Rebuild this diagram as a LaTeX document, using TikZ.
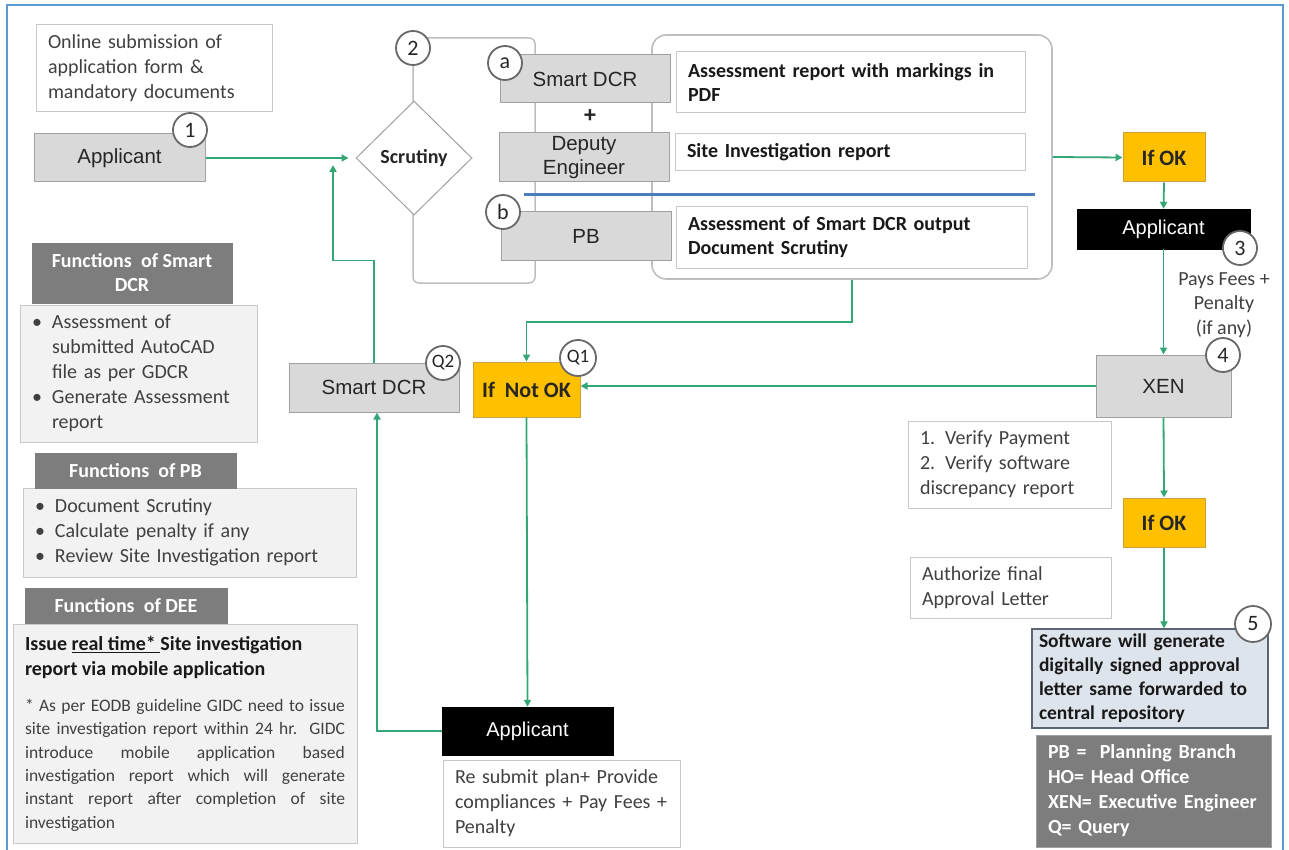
\documentclass[tikz,border=0pt]{standalone}
\usepackage{fontspec}
\setmainfont{Carlito}
\newfontfamily\arialf{Liberation Sans}
\usetikzlibrary{shapes.geometric,arrows.meta}
\definecolor{flowgreen}{RGB}{52,166,118}
\definecolor{graybox}{RGB}{217,217,217}
\definecolor{grayline}{RGB}{160,160,160}
\definecolor{lightline}{RGB}{200,200,200}
\definecolor{brackgray}{RGB}{190,190,190}
\definecolor{darkhdr}{RGB}{125,125,125}
\definecolor{lightbox}{RGB}{242,242,242}
\definecolor{goldc}{RGB}{255,192,0}
\definecolor{goldline}{RGB}{205,160,60}
\definecolor{bordblue}{RGB}{91,155,213}
\definecolor{sepblue}{RGB}{74,126,187}
\definecolor{boxfivefill}{RGB}{222,228,235}
\definecolor{boxfiveline}{RGB}{90,100,115}
\definecolor{txt}{RGB}{38,38,38}
\definecolor{txtgray}{RGB}{64,64,64}
\newcommand\fsz[2]{\fontsize{#1}{#2}\selectfont}
\tikzset{
  graynode/.style={draw=grayline, fill=graybox, line width=1pt, inner sep=0pt,
    font=\arialf\fsz{20.5}{24}, text=txt, align=center},
  blacknode/.style={fill=black, draw=black, inner sep=0pt, font=\arialf\fsz{20}{24}, text=white},
  goldnode/.style={fill=goldc, draw=goldline, line width=1pt, inner sep=0pt,
    font=\bfseries\fsz{22}{26}, text=black!85},
  txtbox/.style={draw=lightline, fill=white, line width=1pt, inner xsep=12pt, inner ysep=0pt,
    align=left, font=\fsz{20}{25}, text=txtgray},
  boldbox/.style={txtbox, font=\bfseries\fsz{20}{24}, text=black!90},
  hdr/.style={fill=darkhdr, draw=darkhdr, inner sep=0pt, font=\bfseries\fsz{20}{24},
    text=white, align=center},
  lbox/.style={draw=lightline, fill=lightbox, line width=1pt, inner xsep=12pt, inner ysep=0pt,
    align=left, font=\fsz{20}{25}, text=txtgray},
  num/.style={circle, draw=grayline!65!black, line width=1.8pt, fill=white, minimum size=34pt,
    inner sep=0pt, font=\fsz{22}{24}, text=txt},
  flow/.style={draw=flowgreen, line width=1.8pt, -{Triangle[length=7pt,width=7pt]}},
}
\begin{document}
\begin{tikzpicture}[x=1pt,y=-1pt]
\useasboundingbox (0,0) rectangle (1289,850);
\draw[bordblue, line width=2pt] (7,5) rectangle (1283,862);

% bracket and big rounded box
\draw[brackgray, line width=1.5pt, rounded corners=6pt] (413,38) rectangle (535,283);
\node[draw=brackgray, line width=1.6pt, rounded corners=14pt, minimum width=400pt,
  minimum height=244pt, inner sep=0pt] (bigbox) at (852,157) {};
\draw[sepblue, line width=3pt] (524,195) -- (1035,195);

% top-left
\node[txtbox, text width=212pt, minimum height=87pt] (online) at (154,68.5)
  {Online submission of\\application form \&\\mandatory documents};
\node[graynode, minimum width=171pt, minimum height=48pt] (app1) at (119.5,158) {Applicant};
\node[num] (c1) at (190,130) {1};

% scrutiny
\node[diamond, draw=grayline, fill=white, line width=1pt, minimum width=116pt,
  minimum height=114pt, inner sep=0pt, aspect=1.02, font=\bfseries\fsz{20}{24}, text=txt]
  (scr) at (414,158) {Scrutiny};
\node[num] (c2) at (413,48) {2};

% a / b boxes
\node[graynode, minimum width=170pt, minimum height=48pt] (sdcr) at (585,79) {Smart DCR};
\node[num] (ca) at (505,63) {a};
\node[font=\arialf\bfseries\fsz{22}{24}, text=txt, inner sep=0pt] (plus) at (590,116) {+};
\node[graynode, minimum width=170pt, minimum height=49pt] (dep) at (584,157.5) {Deputy\\Engineer};
\node[graynode, minimum width=170pt, minimum height=48pt] (pb) at (586,236) {PB};
\node[num] (cb) at (503,212) {b};

\node[boldbox, text width=325pt, minimum height=61pt] (r1) at (850.5,82.5)
  {Assessment report with markings in\\PDF};
\node[boldbox, text width=326pt, minimum height=37pt] (r2) at (850,152.5)
  {Site Investigation report};
\node[boldbox, text width=327pt, minimum height=61pt] (r3) at (851.5,237.5)
  {Assessment of Smart DCR output\\Document Scrutiny};

% right column
\node[goldnode, minimum width=82pt, minimum height=49pt] (ok1) at (1164,157.5) {If OK};
\node[blacknode, minimum width=173pt, minimum height=40pt] (appR) at (1163.5,229) {Applicant};
\node[num] (c3) at (1240,248) {3};
\node[font=\fsz{20}{24.5}, text=txtgray, align=center, inner sep=0pt] (pays) at (1224,305)
  {Pays Fees +\\Penalty\\(if any)};
\node[graynode, minimum width=135pt, minimum height=62pt] (xen) at (1163.5,386) {XEN};
\node[num] (c4) at (1223,355) {4};

\node[txtbox, text width=179pt, minimum height=87pt] (ver) at (1009.5,464.5)
  {1. Verify Payment\\2. Verify software\\discrepancy report};
\node[goldnode, minimum width=82pt, minimum height=49pt] (ok2) at (1164,522.5) {If OK};
\node[txtbox, text width=177pt, minimum height=61pt] (auth) at (1010.5,587.5)
  {Authorize final\\Approval Letter};
\node[draw=boxfiveline, fill=boxfivefill, line width=1.2pt, inner xsep=7pt, inner ysep=0pt,
  text width=222pt, minimum height=99pt, align=left, font=\bfseries\fsz{19.5}{24}, text=black!90]
  (b5) at (1150,678.5)
  {Software will generate\\digitally signed approval\\letter same forwarded to\\central repository};
\node[num, minimum size=36pt] (c5) at (1253,624) {5};
\node[fill=darkhdr, draw=grayline, line width=1pt, text width=211pt, inner xsep=12pt, inner ysep=0pt,
  minimum height=112pt, align=left, font=\bfseries\fsz{20}{25}, text=white] (leg) at (1153.5,791)
  {PB =\ \ Planning\ Branch\\HO= Head Office\\XEN= Executive Engineer\\Q= Query};

% middle
\node[goldnode, minimum width=107pt, minimum height=55pt] (notok) at (526.5,389.5) {If\ \ Not OK};
\node[num, minimum size=36pt, font=\fsz{19}{20}] (q1) at (578,358) {Q1};
\node[graynode, minimum width=170pt, minimum height=49pt] (q2dcr) at (374,387.5) {Smart DCR};
\node[num, font=\fsz{19}{20}] (q2) at (443,363) {Q2};

\node[blacknode, minimum width=171pt, minimum height=48pt] (appB) at (527.5,731) {Applicant};
\node[txtbox, text width=213pt, minimum height=87pt] (resub) at (561.5,803.5)
  {Re submit plan+ Provide\\compliances + Pay Fees +\\Penalty};

% left column
\node[lbox, text width=213pt, minimum height=137pt] (b1) at (138.5,373.5)
  {\makebox[20pt][l]{\textbullet}Assessment of\\
   \hspace*{20pt}submitted AutoCAD\\
   \hspace*{20pt}file as per GDCR\\
   \makebox[20pt][l]{\textbullet}Generate Assessment\\
   \hspace*{20pt}report};
\node[hdr, minimum width=200pt, minimum height=60pt] (h1) at (132,273) {Functions\ \ of Smart\\DCR};

\node[lbox, text width=309pt, minimum height=89pt] (b2) at (189.5,532.5)
  {\makebox[20pt][l]{\textbullet}Document Scrutiny\\
   \makebox[20pt][l]{\textbullet}Calculate penalty if any\\
   \makebox[20pt][l]{\textbullet}Review Site Investigation report};
\node[hdr, minimum width=201pt, minimum height=35pt] (h2) at (135.5,470.5) {Functions\ \ of PB};

\node[lbox, align=justify, text width=320pt, minimum height=219pt] (b3) at (185,733.5)
  {{\raggedright\bfseries\fsz{20}{25}\color{black!90}Issue \underline{real time*\ }Site investigation\\report via mobile application\par}
   \vspace{13pt}
   {\fsz{17.5}{23.3}* As per EODB guideline GIDC need to issue\linebreak
    site investigation report within 24 hr. GIDC\linebreak
    introduce mobile application based\linebreak
    investigation report which will generate\linebreak
    instant report after completion of site\linebreak
    investigation\par}};
\node[hdr, minimum width=202pt, minimum height=35pt] (h3) at (126,605.5) {Functions\ \ of DEE};

% connectors
\coordinate (j1) at (333,165);
\draw[flow, shorten >=7pt] (app1.east) -- (scr.west);
\draw[flow] (q2dcr.north) -- ++(0,-102) -| (j1);
\draw[flow] (bigbox.east) -- (ok1.west);
\draw[flow] (ok1.south) -- (appR.north);
\draw[flow] (appR.south) -- (xen.north);
\draw[flow] (xen.west) -- (notok.east |- xen.west);
\draw[flow] (bigbox.south) -- ++(0,42) -| (notok.north);
\draw[flow] (notok.south) -- (appB.north);
\draw[flow] (appB.west) -| ([xshift=3pt]q2dcr.south);
\draw[flow] (xen.south) -- (ok2.north);
\draw[flow] (ok2.south) -- (ok2.south |- b5.north);
\end{tikzpicture}
\end{document}
